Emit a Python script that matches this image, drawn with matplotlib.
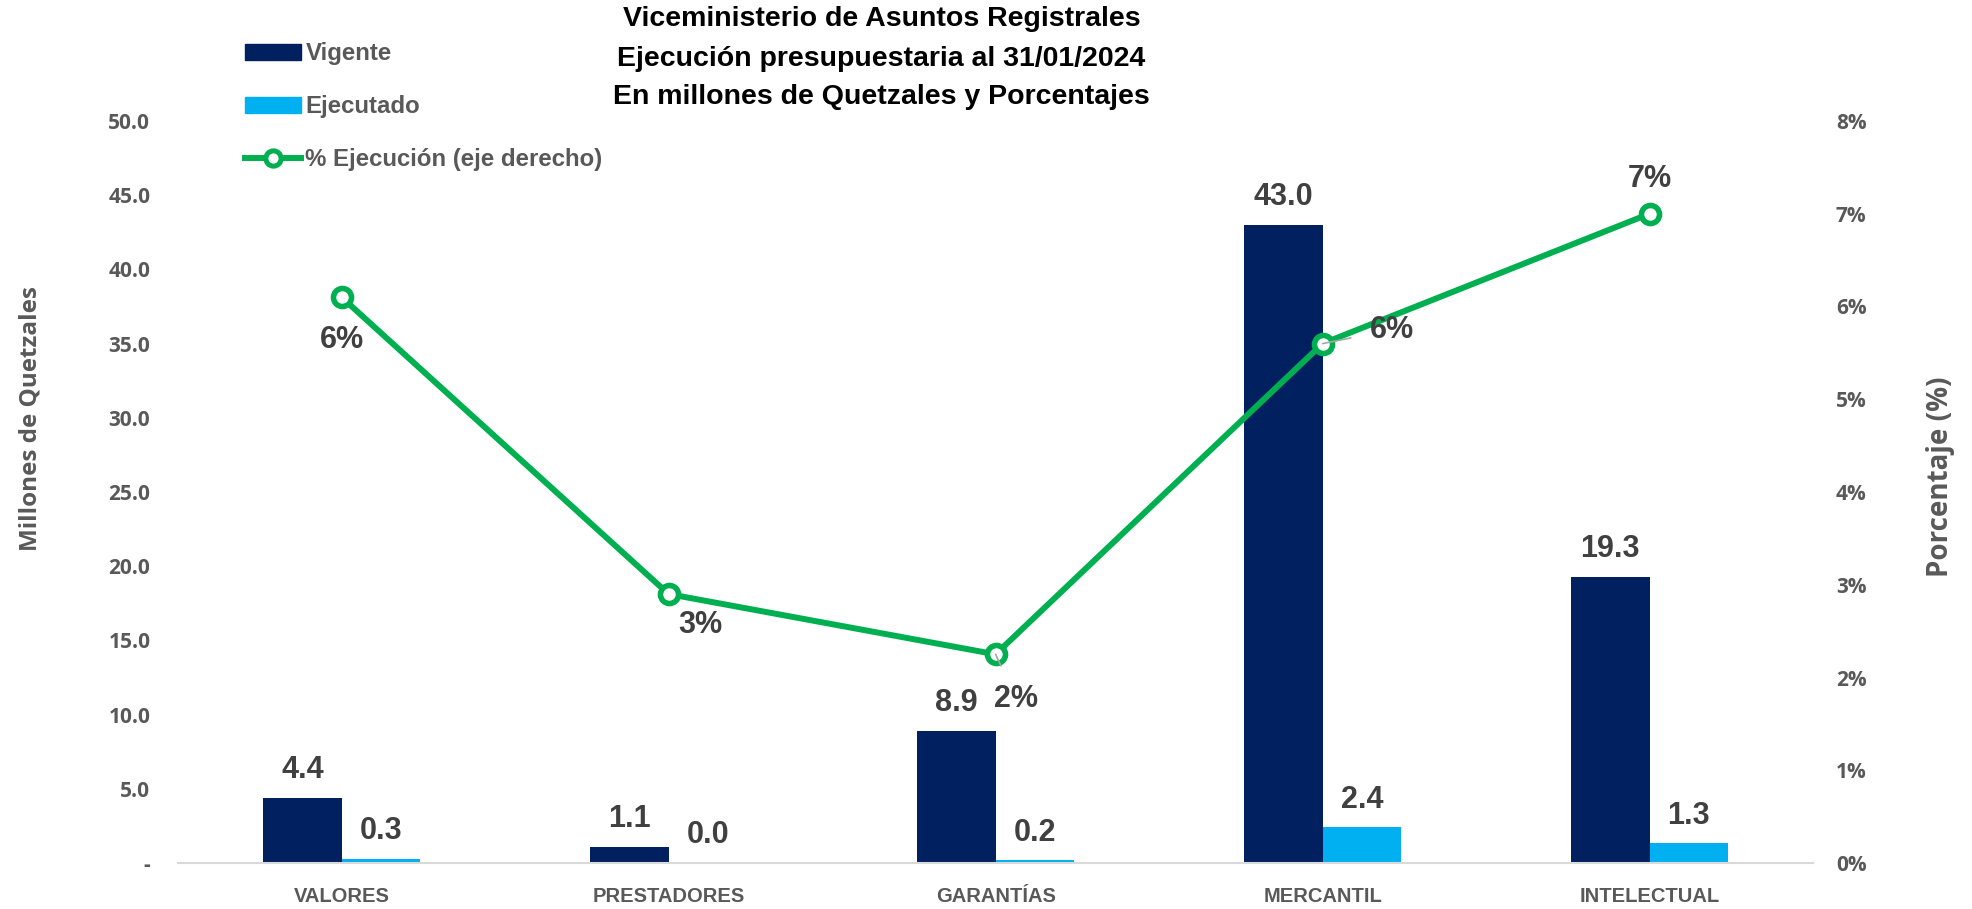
import numpy as np
import matplotlib as mpl
mpl.use('Agg')
import matplotlib.pyplot as plt
from matplotlib.lines import Line2D
from matplotlib.patches import Patch

# Data
categorias = ['VALORES', 'PRESTADORES', 'GARANTÍAS', 'MERCANTIL', 'INTELECTUAL']
vigente = [4.4, 1.1, 8.9, 43.0, 19.3]
ejecutado = [0.27, 0.03, 0.2, 2.42, 1.34]
pct_ejecucion = [0.061, 0.029, 0.0225, 0.056, 0.070]

titulo = ['Viceministerio de Asuntos Registrales',
          'Ejecución presupuestaria al 31/01/2024',
          'En millones de Quetzales y Porcentajes']

# fonts: Calibri-like text and Segoe-like axis text
narrow = 'Liberation Sans'
wide = 'Open Sans'

navy = '#002060'
light = '#00B0F0'
green = '#00B050'
gray = '#595959'
dark = '#404040'

fig = plt.figure(figsize=(19.72, 9.09), dpi=100)
ax = fig.add_axes([0.0903, 0.0506, 0.8291, 0.8163])
ax2 = ax.twinx()

x = np.arange(len(categorias))
w = 0.24
ax.bar(x - w/2, vigente, w, color=navy, zorder=2)
ax.bar(x + w/2, ejecutado, w, color=light, zorder=2)

ax.set_xlim(-0.5, len(categorias) - 0.5)
ax.set_ylim(0, 50)
ax.set_yticks(np.arange(0, 51, 5))
ax.set_yticklabels(['-'] + ['%.1f' % v for v in np.arange(5, 51, 5)])
ax.set_xticks(x)
ax.set_xticklabels(categorias)

for t in ax.get_yticklabels():
    t.set_fontfamily(wide)
    t.set_fontweight('bold')
    t.set_color(gray)
    t.set_fontsize(15)
for t in ax.get_xticklabels():
    t.set_fontfamily(narrow)
    t.set_fontweight('bold')
    t.set_color(gray)
    t.set_fontsize(14.5)

ax.tick_params(axis='both', length=0)
ax.tick_params(axis='y', pad=20)
ax.tick_params(axis='x', pad=17)
for s in ['top', 'right', 'left']:
    ax.spines[s].set_visible(False)
ax.spines['bottom'].set_color('#D9D9D9')
ax.spines['bottom'].set_linewidth(1.5)

# bar labels
for xs, vals in [(x - w/2, vigente), (x + w/2, ejecutado)]:
    for xi, v in zip(xs, vals):
        ax.annotate('%.1f' % v, (xi, v), xytext=(0, 9), textcoords='offset points',
                    ha='center', va='bottom', fontsize=22, fontweight='bold',
                    color=dark, family=narrow)

# percentage line
ax2.plot(x, pct_ejecucion, color=green, lw=4.3, marker='o', markersize=13,
         markerfacecolor='white', markeredgecolor=green, markeredgewidth=4, zorder=3)
ax2.set_ylim(0, 0.08)
ax2.set_yticks(np.arange(0, 0.081, 0.01))
ax2.set_yticklabels(['%d%%' % round(v * 100) for v in np.arange(0, 0.081, 0.01)])
for t in ax2.get_yticklabels():
    t.set_fontfamily(wide)
    t.set_fontweight('bold')
    t.set_color(gray)
    t.set_fontsize(15)
ax2.tick_params(axis='y', length=0, pad=16.5)
for s in ax2.spines.values():
    s.set_visible(False)

# percentage labels (offsets in points)
offsets = [(0, -31), (23, -22), (15, -32), (50, 10), (0, 25)]
leaders = [False, False, True, True, False]
for xi, p, off, ld in zip(x, pct_ejecucion, offsets, leaders):
    ax2.annotate('%d%%' % round(p * 100), (xi, p), xytext=off, textcoords='offset points',
                 ha='center', va='center', fontsize=22, fontweight='bold', color=dark,
                 family=narrow,
                 arrowprops=dict(arrowstyle='-', color='#A6A6A6', lw=1.2, shrinkA=12, shrinkB=0) if ld else None)

# axis titles
fig.text(0.0157, 0.54, 'Millones de Quetzales', rotation=90, ha='center', va='center',
         fontsize=17.5, fontweight='bold', color=gray, family=wide)
fig.text(0.984, 0.476, 'Porcentaje (%)', rotation=90, ha='center', va='center',
         fontsize=20, fontweight='bold', color=gray, family=wide)

# title
for yy, line in zip([0.979, 0.935, 0.893], titulo):
    fig.text(0.447, yy, line, ha='center', va='center', fontsize=20.5, fontweight='bold',
             color='black', family=narrow)

# legend
handles = [Patch(color=navy), Patch(color=light),
           Line2D([0], [0], color=green, lw=4.3, marker='o', markersize=11,
                  markerfacecolor='white', markeredgewidth=3.6)]
labels = ['Vigente', 'Ejecutado', '% Ejecución (eje derecho)']
leg = fig.legend(handles, labels, loc='upper left', bbox_to_anchor=(0.1195, 0.964),
                 frameon=False, labelspacing=1.25, handlelength=2.3, handleheight=0.68,
                 handletextpad=0.2, borderaxespad=0,
                 prop={'family': narrow, 'weight': 'bold', 'size': 17.3})
for t in leg.get_texts():
    t.set_color(gray)

fig.savefig('out.png', dpi=100)
